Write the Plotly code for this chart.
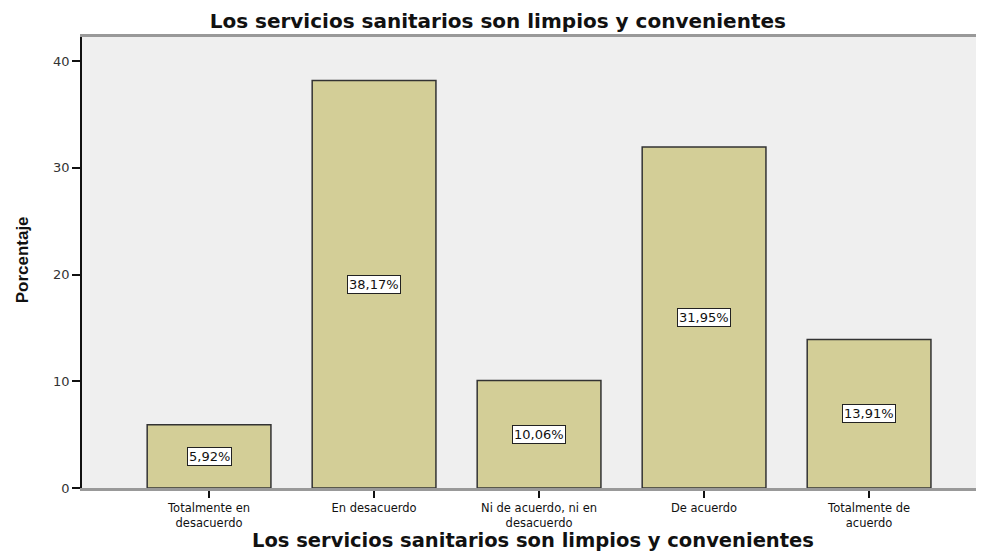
import plotly.graph_objects as go

categorias = ["Totalmente en<br>desacuerdo", "En desacuerdo", "Ni de acuerdo, ni en<br>desacuerdo",
              "De acuerdo", "Totalmente de<br>acuerdo"]
porcentajes = [5.92, 38.17, 10.06, 31.95, 13.91]
y_ticks = [0, 10, 20, 30, 40]

titulo = "Los servicios sanitarios son limpios y convenientes"

fig = go.Figure()
fig.add_trace(go.Bar(
    x=categorias, y=porcentajes, width=0.75,
    marker=dict(color="#D3CE97", line=dict(color="#333333", width=1.5)),
    hoverinfo="skip",
))

# etiquetas de porcentaje en caja blanca, a media altura de cada barra
for cat, val in zip(categorias, porcentajes):
    fig.add_annotation(
        x=cat, y=val / 2, text=f"{val:.2f}".replace(".", ",") + "%",
        showarrow=False, bgcolor="white", bordercolor="#222222", borderwidth=1, borderpad=1,
        font=dict(family="DejaVu Sans", size=13, color="#111111"),
    )

# titulos de ejes como anotaciones para fijar su posicion
fig.add_annotation(
    xref="paper", yref="paper", x=0.505, y=-0.117, xanchor="center", yanchor="middle",
    text="<b>" + titulo + "</b>", showarrow=False,
    font=dict(family="DejaVu Sans", size=19.5, color="#111111"),
)
fig.add_annotation(
    xref="paper", yref="paper", x=-0.067, y=0.505, xanchor="center", yanchor="middle",
    text="<b>Porcentaje</b>", textangle=-90, showarrow=False,
    font=dict(family="Liberation Sans Narrow, Liberation Sans", size=17, color="#111111"),
)

# la pagina deja 8px de margen alrededor, por eso 968 de ancho
fig.update_layout(
    width=968, height=544,
    margin=dict(l=74, r=0, t=29, b=64, autoexpand=False),
    paper_bgcolor="white", plot_bgcolor="#EFEFEF",
    showlegend=False,
    title=dict(text="<b>" + titulo + "</b>", x=0.506, xanchor="center", y=0.977, yanchor="middle",
               font=dict(family="DejaVu Sans", size=20, color="#111111")),
)
fig.update_xaxes(
    range=[-0.77, 4.648], showline=True, linecolor="#999999", linewidth=2.5, mirror=True,
    ticks="outside", ticklen=7, tickwidth=1.5, tickcolor="#111111",
    tickfont=dict(family="DejaVu Sans", size=11.5, color="#111111"),
    showgrid=False, automargin=False,
)
fig.update_yaxes(
    range=[0, 42.25], tickvals=y_ticks, showline=True, linecolor="#111111", linewidth=1.5,
    ticks="outside", ticklen=8, tickwidth=1.5, tickcolor="#111111",
    tickfont=dict(family="DejaVu Sans", size=13, color="#333333"),
    showgrid=False, zeroline=False, automargin=False,
)

fig.write_html("out.html")
